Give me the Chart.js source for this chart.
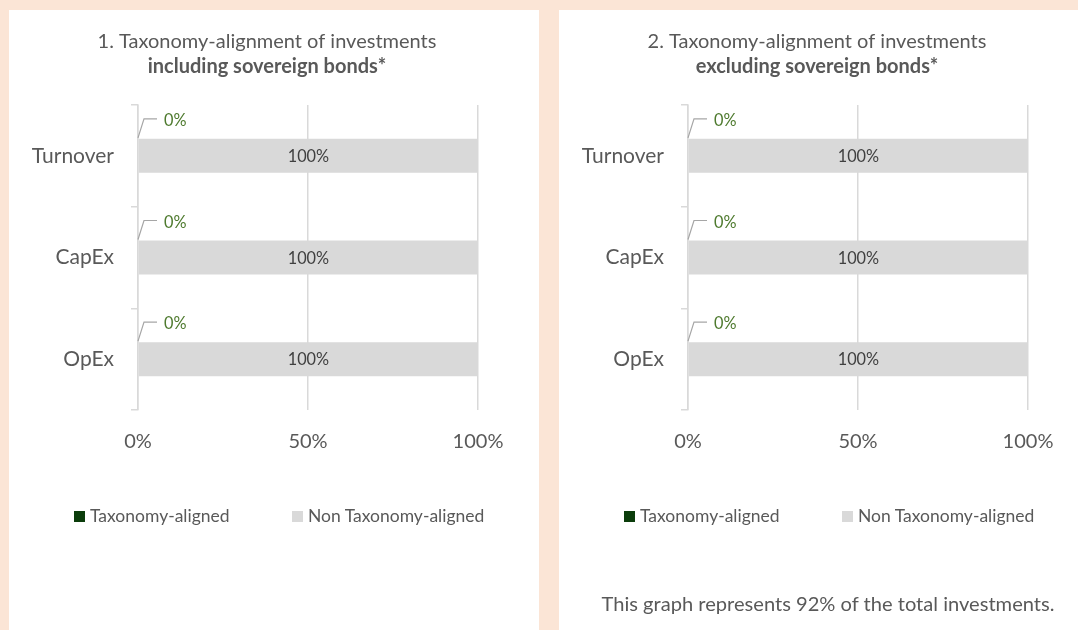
<!DOCTYPE html>
<html>
<head>
<meta charset="utf-8">
<script src="https://cdn.jsdelivr.net/npm/chart.js@4.4.1/dist/chart.umd.min.js"></script>
<style>
    html, body { margin: 0; padding: 0; }
    body {
        width: 1078px; height: 630px; overflow: hidden; position: relative;
        background: #fbe5d6; font-family: Lato, sans-serif; color: #595959;
    }
    .panel { position: absolute; top: 10px; height: 620px; background: #fff; overflow: hidden; }
    #panel1 { left: 9px; width: 530px; }
    #panel2 { left: 559px; width: 519px; }
    .wrap { position: absolute; left: 0; top: 0; width: 516px; height: 620px; }
    .legend-item { position: absolute; top: 495px; height: 22px; line-height: 22px; font-size: 17.5px; white-space: nowrap; }
    .legend-item .box { display: inline-block; width: 11px; height: 11px; vertical-align: middle; margin-right: 5px; position: relative; top: -1px; }
    .note { position: absolute; left: 0; width: 538px; top: 581px; text-align: center; font-size: 20.1px; line-height: 24px; }
</style>
</head>
<body>
<div class="panel" id="panel1">
    <div class="wrap"><canvas id="chart1"></canvas></div>
    <div id="legend1"></div>
</div>
<div class="panel" id="panel2">
    <div class="wrap"><canvas id="chart2"></canvas></div>
    <div id="legend2"></div>
    <div class="note">This graph represents 92% of the total investments.</div>
</div>
<script>
    // Data
    const categories = ['Turnover', 'CapEx', 'OpEx'];
    const seriesNames = ['Taxonomy-aligned', 'Non Taxonomy-aligned'];
    const seriesColors = ['#0b3d0b', '#d9d9d9'];
    const alignedIncl = [0, 0, 0];
    const nonAlignedIncl = [100, 100, 100];
    const alignedExcl = [0, 0, 0];
    const nonAlignedExcl = [100, 100, 100];
    const xTicks = [0, 50, 100];

    const textColor = '#595959';
    const gridColor = '#d9d9d9';
    const fontFamily = 'Lato, sans-serif';

    // Value labels: "100%" in the bar, "0%" with a leader line above it
    const barLabels = {
        id: 'barLabels',
        afterDatasetsDraw(chart) {
            const ctx = chart.ctx;
            ctx.save();
            ctx.font = '16.3px ' + fontFamily;
            ctx.textBaseline = 'middle';
            chart.data.datasets.forEach((ds, i) => {
                const meta = chart.getDatasetMeta(i);
                meta.data.forEach((bar, j) => {
                    const v = ds.data[j];
                    if (i === 0) {
                        const top = bar.y - bar.height / 2;
                        ctx.strokeStyle = '#a6a6a6';
                        ctx.lineWidth = 1.2;
                        ctx.beginPath();
                        ctx.moveTo(bar.base, top - 1);
                        ctx.lineTo(bar.base + 6, top - 20);
                        ctx.lineTo(bar.base + 19, top - 20);
                        ctx.stroke();
                        ctx.fillStyle = '#4e7a2e';
                        ctx.textAlign = 'left';
                        ctx.fillText(v + '%', bar.base + 26, top - 18);
                    } else {
                        ctx.fillStyle = '#404040';
                        ctx.textAlign = 'center';
                        ctx.fillText(v + '%', (bar.x + bar.base) / 2, bar.y + 1);
                    }
                });
            });
            ctx.restore();
        }
    };

    function makeChart(canvasId, legendId, title, subtitle, aligned, nonAligned) {
        const ctx = document.getElementById(canvasId).getContext('2d');
        const values = [aligned, nonAligned];
        const chart = new Chart(ctx, {
            type: 'bar',
            data: {
                labels: categories,
                datasets: seriesNames.map((name, i) => ({
                    label: name,
                    data: values[i],
                    backgroundColor: seriesColors[i],
                    borderWidth: 0,
                    inflateAmount: 0,
                    barThickness: 34
                }))
            },
            options: {
                indexAxis: 'y',
                responsive: true,
                maintainAspectRatio: false,
                animation: false,
                layout: { padding: { left: 0, right: 0, top: 0, bottom: 160 } },
                plugins: {
                    legend: { display: false },
                    tooltip: { enabled: false },
                    title: {
                        display: true,
                        text: title,
                        color: textColor,
                        font: { family: fontFamily, size: 20, weight: 'normal' },
                        padding: { top: 20, bottom: 1 }
                    },
                    subtitle: {
                        display: true,
                        text: subtitle,
                        color: textColor,
                        font: { family: fontFamily, size: 20, weight: 'bold' },
                        padding: { top: 0, bottom: 26 }
                    }
                },
                scales: {
                    x: {
                        type: 'linear',
                        stacked: true,
                        min: 0,
                        max: 100,
                        afterBuildTicks: scale => { scale.ticks = xTicks.map(v => ({ value: v })); },
                        afterFit: scale => { scale.height = 60; },
                        ticks: {
                            color: textColor,
                            font: { family: fontFamily, size: 20 },
                            padding: 20,
                            callback: v => v + '%'
                        },
                        grid: { color: gridColor, lineWidth: 1.5, drawTicks: false },
                        border: { display: false }
                    },
                    y: {
                        type: 'category',
                        stacked: true,
                        offset: true,
                        afterFit: scale => { scale.width = 129; },
                        ticks: {
                            color: textColor,
                            font: { family: fontFamily, size: 21 },
                            padding: 17
                        },
                        grid: {
                            offset: true,
                            drawOnChartArea: false,
                            drawTicks: true,
                            tickLength: 7,
                            color: gridColor,
                            lineWidth: 1.5
                        },
                        border: { display: true, color: gridColor, width: 1.5 }
                    },
                    // empty right-hand axis: keeps the plot off the right edge
                    // while the titles stay centred on the whole canvas
                    yRight: {
                        type: 'category',
                        position: 'right',
                        afterFit: scale => { scale.width = 47; },
                        ticks: { display: false },
                        grid: { display: false },
                        border: { display: false }
                    }
                }
            },
            plugins: [barLabels]
        });

        // Legend built from the same series arrays
        const legend = document.getElementById(legendId);
        const legendX = [65, 283];
        seriesNames.forEach((name, i) => {
            const item = document.createElement('div');
            item.className = 'legend-item';
            item.style.left = legendX[i] + 'px';
            item.innerHTML = '<span class="box" style="background:' + seriesColors[i] + '"></span>' + name;
            legend.appendChild(item);
        });
        return chart;
    }

    makeChart('chart1', 'legend1', '1. Taxonomy-alignment of investments', 'including sovereign bonds*', alignedIncl, nonAlignedIncl);
    makeChart('chart2', 'legend2', '2. Taxonomy-alignment of investments', 'excluding sovereign bonds*', alignedExcl, nonAlignedExcl);
</script>
</body>
</html>
